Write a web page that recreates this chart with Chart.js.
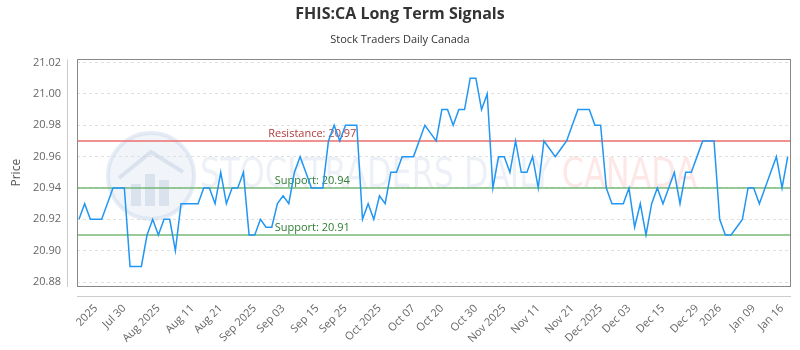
<!DOCTYPE html>
<html><head><meta charset="utf-8">
<script src="https://cdn.jsdelivr.net/npm/chart.js@4.4.0/dist/chart.umd.min.js"></script>
<style>html,body{margin:0;padding:0;background:#fff}</style>
</head><body>
<canvas id="c" width="800" height="350"></canvas>
<script>
const prices = [
20.92,20.93,20.92,20.92,20.92,20.93,20.94,20.94,20.94,20.89,
20.89,20.89,20.91,20.92,20.91,20.92,20.92,20.90,20.93,20.93,
20.93,20.93,20.94,20.94,20.93,20.95,20.93,20.94,20.94,20.95,
20.91,20.91,20.92,20.915,20.915,20.93,20.935,20.93,20.95,20.96,
20.95,20.94,20.94,20.94,20.97,20.98,20.97,20.98,20.98,20.98,
20.92,20.93,20.92,20.935,20.93,20.95,20.95,20.96,20.96,20.96,
20.97,20.98,20.975,20.97,20.99,20.99,20.98,20.99,20.99,21.01,
21.01,20.99,21.00,20.94,20.96,20.96,20.95,20.97,20.95,20.95,
20.96,20.94,20.97,20.965,20.96,20.965,20.97,20.98,20.99,20.99,
20.99,20.98,20.98,20.94,20.93,20.93,20.93,20.94,20.915,20.93,
20.91,20.93,20.94,20.93,20.94,20.95,20.93,20.95,20.95,20.96,
20.97,20.97,20.97,20.92,20.91,20.91,20.915,20.92,20.94,20.94,
20.93,20.94,20.95,20.96,20.94,20.96
];
const tickLabels = ["2025","Jul 30","Aug 2025","Aug 11","Aug 21","Sep 2025","Sep 03","Sep 15","Sep 25","Oct 2025","Oct 07","Oct 20","Oct 30","Nov 2025","Nov 11","Nov 21","Dec 2025","Dec 03","Dec 15","Dec 29","2026","Jan 09","Jan 16"];
const tickAt = [3,8,14,20,25,31,36,42,47,53,59,64,70,75,81,87,92,97,103,109,113,119,124];
const yTicks = [20.88,20.90,20.92,20.94,20.96,20.98,21.00,21.02];
const resistance = [20.97];
const supports = [20.94, 20.91];

const FONT = "'Open Sans', 'DejaVu Sans', sans-serif";

const decor = {
  id: 'decor',
  beforeDatasetsDraw(chart) {
    const {ctx, chartArea: a, scales: {y}} = chart;
    ctx.save();
    // watermark
    const cx = 151, cy = 176, r = 43;
    ctx.beginPath(); ctx.arc(cx, cy, r, 0, Math.PI*2);
    ctx.fillStyle = 'rgba(215,225,240,0.35)'; ctx.fill();
    ctx.lineWidth = 4; ctx.strokeStyle = 'rgba(200,212,232,0.45)'; ctx.stroke();
    ctx.fillStyle = 'rgba(190,205,225,0.45)';
    [[-20,8,10,22],[-6,-2,10,32],[8,4,10,26]].forEach(b=>ctx.fillRect(cx+b[0], cy+b[1], b[2], b[3]));
    ctx.beginPath(); ctx.moveTo(cx-32,cy+2); ctx.lineTo(cx,cy-24); ctx.lineTo(cx+32,cy-4);
    ctx.lineWidth = 4; ctx.strokeStyle='rgba(190,205,225,0.45)'; ctx.stroke();
    ctx.font = "40px 'DejaVu Sans Condensed', 'Open Sans', sans-serif";
    ctx.textBaseline = 'middle'; ctx.textAlign = 'left';
    const t1 = 'STOCKTRADERS DAILY ', t2 = 'CANADA';
    const w1 = ctx.measureText(t1).width, w2 = ctx.measureText(t2).width;
    const sx = (697-200)/(w1+w2);
    ctx.save(); ctx.translate(200, 177); ctx.scale(sx, 1);
    ctx.fillStyle = 'rgba(195,208,228,0.30)'; ctx.fillText(t1, 0, 0);
    ctx.fillStyle = 'rgba(250,175,175,0.30)'; ctx.fillText(t2, w1, 0);
    ctx.restore();
    // level lines
    const lx = a.left + 0.33*(a.right-a.left);
    ctx.font = "11px " + FONT; ctx.textAlign = 'center'; ctx.textBaseline = 'bottom';
    const drawLevel = (v, col, tcol, txt) => {
      const yy = y.getPixelForValue(v);
      ctx.beginPath(); ctx.moveTo(a.left, yy); ctx.lineTo(a.right, yy);
      ctx.lineWidth = 2; ctx.strokeStyle = col; ctx.stroke();
      ctx.fillStyle = tcol; ctx.fillText(txt, lx, yy - 2);
    };
    resistance.forEach(v => drawLevel(v, 'rgba(235,110,110,0.75)', '#b23b3b', 'Resistance: ' + v.toFixed(2)));
    supports.forEach(v => drawLevel(v, 'rgba(110,180,110,0.7)', '#2e7d32', 'Support: ' + v.toFixed(2)));
    ctx.restore();
  },
  afterDraw(chart) {
    const {ctx, chartArea: a} = chart;
    ctx.save();
    ctx.strokeStyle = '#888'; ctx.lineWidth = 1;
    ctx.strokeRect(Math.round(a.left)+0.5, Math.round(a.top)+0.5, Math.round(a.right-a.left), Math.round(a.bottom-a.top));
    ctx.strokeStyle = '#ccc';
    ctx.beginPath(); ctx.moveTo(a.left-10+0.5, a.top); ctx.lineTo(a.left-10+0.5, a.bottom+1); ctx.stroke();
    ctx.beginPath(); ctx.moveTo(a.left, a.bottom+10+0.5); ctx.lineTo(a.right+1, a.bottom+10+0.5); ctx.stroke();
    ctx.restore();
  }
};

new Chart(document.getElementById('c'), {
  type: 'line',
  data: {
    datasets: [{
      data: prices.map((v, i) => ({x: i, y: v})),
      borderColor: '#2196f3',
      borderWidth: 1.5,
      pointRadius: 0,
      tension: 0,
      fill: false
    }]
  },
  options: {
    responsive: false,
    animation: false,
    devicePixelRatio: 1,
    layout: {padding: {left: 0, right: 0, top: 0, bottom: 0}},
    plugins: {
      legend: {display: false},
      tooltip: {enabled: false},
      title: {display: true, text: 'FHIS:CA Long Term Signals', color: '#333',
        font: {family: FONT, size: 16, weight: 'bold'}, padding: {top: 5, bottom: 9}},
      subtitle: {display: true, text: 'Stock Traders Daily Canada', color: '#333',
        font: {family: FONT, size: 11}, padding: {top: 0, bottom: 13}}
    },
    scales: {
      x: {
        type: 'linear',
        min: -0.35,
        max: prices.length - 1 + 0.4,
        grid: {display: false},
        border: {display: false},
        afterBuildTicks(scale) { scale.ticks = tickAt.map(v => ({value: v})); },
        afterFit(scale) { scale.height = 64; scale.paddingRight = 10; },
        ticks: {
          autoSkip: false, maxRotation: 45, minRotation: 45, padding: 8,
          color: '#666', font: {family: FONT, size: 11},
          callback(v) { const k = tickAt.indexOf(v); return k >= 0 ? tickLabels[k] : ''; }
        }
      },
      y: {
        min: 20.8775,
        max: 21.022,
        afterBuildTicks(scale) { scale.ticks = yTicks.map(v => ({value: v})); },
        afterFit(scale) { scale.width = 77; },
        border: {display: false, dash: [3, 3]},
        grid: {color: '#e0e0e0', drawTicks: false},
        ticks: {color: '#666', padding: 16, font: {family: FONT, size: 11},
          callback(v) { return v.toFixed(2); }},
        title: {display: true, text: 'Price', color: '#555', font: {family: FONT, size: 12},
          padding: {top: 9, bottom: 0}}
      }
    }
  },
  plugins: [decor]
});
</script>
</body></html>
